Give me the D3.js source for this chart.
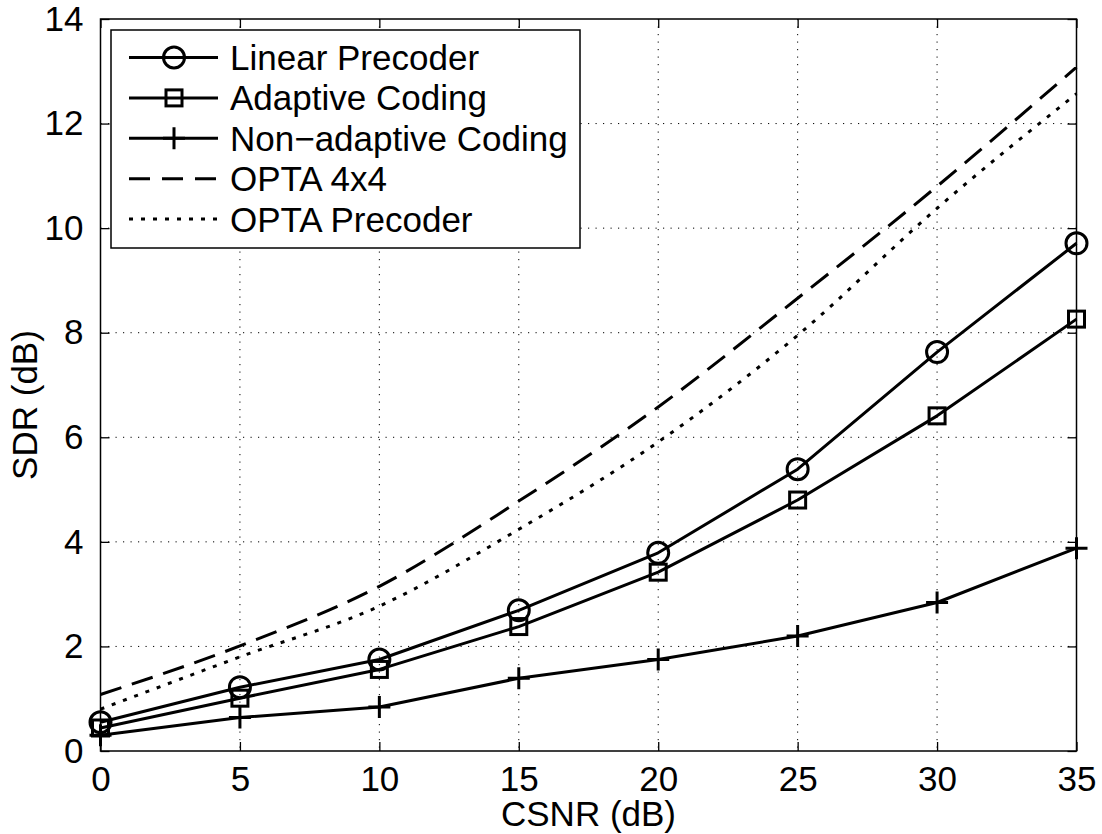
<!DOCTYPE html>
<html>
<head>
<meta charset="utf-8">
<script src="https://cdn.jsdelivr.net/npm/d3@7"></script>
<style>
  html, body { margin: 0; padding: 0; background: #fff; }
  svg { display: block; }
  text { font-family: "Liberation Sans", Arial, Helvetica, sans-serif; fill: #000; }
</style>
</head>
<body>
<svg id="chart" width="1102" height="834"></svg>
<script>
// CSNR sample points (dB)
const csnr = [0, 5, 10, 15, 20, 25, 30, 35];

// SDR (dB) for each scheme
const linearPrecoder = [0.55, 1.22, 1.75, 2.69, 3.79, 5.39, 7.63, 9.71];
const adaptiveCoding = [0.44, 1.01, 1.56, 2.38, 3.42, 4.80, 6.41, 8.26];
const nonAdaptiveCoding = [0.30, 0.64, 0.84, 1.39, 1.75, 2.20, 2.84, 3.88];
const opta4x4 = [1.08, 2.01, 3.15, 4.78, 6.58, 8.66, 10.80, 13.08];
const optaPrecoder = [0.80, 1.80, 2.77, 4.24, 5.91, 7.95, 10.38, 12.57];

// Axis ticks
const xTicks = [0, 5, 10, 15, 20, 25, 30, 35];
const yTicks = [0, 2, 4, 6, 8, 10, 12, 14];

const seriesNames = ["Linear Precoder", "Adaptive Coding", "Non\u2212adaptive Coding", "OPTA 4x4", "OPTA Precoder"];

const svg = d3.select("#chart");
const margin = { left: 100.5, top: 19, right: 1076.5, bottom: 751 };

const x = d3.scaleLinear().domain([0, 35]).range([margin.left, margin.right]);
const y = d3.scaleLinear().domain([0, 14]).range([margin.bottom, margin.top]);

const FS = 35;

// Dotted grid
const grid = svg.append("g");
grid.selectAll("line.gx").data(xTicks.slice(1, -1)).enter().append("line")
  .attr("x1", d => x(d)).attr("x2", d => x(d))
  .attr("y1", margin.top).attr("y2", margin.bottom)
  .attr("stroke", "#000").attr("stroke-width", 1).attr("stroke-dasharray", "1.2,6.3");
grid.selectAll("line.gy").data(yTicks.slice(1, -1)).enter().append("line")
  .attr("y1", d => y(d)).attr("y2", d => y(d))
  .attr("x1", margin.left).attr("x2", margin.right)
  .attr("stroke", "#000").attr("stroke-width", 1).attr("stroke-dasharray", "1.2,6.3");

// Axes with inward ticks on all four sides
const tickLen = 9;
const axisG = svg.append("g");
const xAxisB = d3.axisBottom(x).tickValues(xTicks).tickSizeInner(-tickLen).tickSizeOuter(0).tickPadding(15);
const xAxisT = d3.axisTop(x).tickValues(xTicks).tickSizeInner(-tickLen).tickSizeOuter(0).tickFormat("");
const yAxisL = d3.axisLeft(y).tickValues(yTicks).tickSizeInner(-tickLen).tickSizeOuter(0).tickPadding(17);
const yAxisR = d3.axisRight(y).tickValues(yTicks).tickSizeInner(-tickLen).tickSizeOuter(0).tickFormat("");

function styleAxis(g) {
  g.select(".domain").remove();
  g.selectAll(".tick line").attr("stroke", "#000").attr("stroke-width", 1.3);
  g.selectAll(".tick text").style("font-size", FS + "px")
    .style("font-family", '"Liberation Sans", Arial, sans-serif').attr("fill", "#000");
}
axisG.append("g").attr("transform", `translate(0,${margin.bottom})`).call(xAxisB).call(styleAxis)
  .selectAll(".tick text").attr("dy", "0.71em");
axisG.append("g").attr("transform", `translate(0,${margin.top})`).call(xAxisT).call(styleAxis);
axisG.append("g").attr("transform", `translate(${margin.left},0)`).call(yAxisL).call(styleAxis);
axisG.append("g").attr("transform", `translate(${margin.right},0)`).call(yAxisR).call(styleAxis);

// Plot box
svg.append("rect")
  .attr("x", margin.left).attr("y", margin.top)
  .attr("width", margin.right - margin.left).attr("height", margin.bottom - margin.top)
  .attr("fill", "none").attr("stroke", "#000").attr("stroke-width", 1.5);

// Axis titles
svg.append("text").attr("x", (margin.left + margin.right) / 2).attr("y", 826)
  .attr("text-anchor", "middle").style("font-size", FS + "px").text("CSNR (dB)");
svg.append("text")
  .attr("transform", `translate(37,405) rotate(-90)`)
  .attr("text-anchor", "middle").style("font-size", FS + "px").text("SDR (dB)");

// Lines
const lw = 3;
const straight = d3.line().x((d, i) => x(csnr[i])).y(d => y(d));
const smooth = d3.line().x((d, i) => x(csnr[i])).y(d => y(d)).curve(d3.curveMonotoneX);

const plotG = svg.append("g");
plotG.append("path").datum(opta4x4).attr("d", smooth)
  .attr("fill", "none").attr("stroke", "#000").attr("stroke-width", lw).attr("stroke-dasharray", "22,11");
plotG.append("path").datum(optaPrecoder).attr("d", smooth)
  .attr("fill", "none").attr("stroke", "#000").attr("stroke-width", lw).attr("stroke-dasharray", "4,8");
[linearPrecoder, adaptiveCoding, nonAdaptiveCoding].forEach(s => {
  plotG.append("path").datum(s).attr("d", straight)
    .attr("fill", "none").attr("stroke", "#000").attr("stroke-width", lw).attr("stroke-linejoin", "round");
});

// Marker drawing helpers
function circleMarker(g, cx, cy) {
  g.append("circle").attr("cx", cx).attr("cy", cy).attr("r", 10.5)
    .attr("fill", "none").attr("stroke", "#000").attr("stroke-width", lw);
}
function squareMarker(g, cx, cy) {
  const s = 16;
  g.append("rect").attr("x", cx - s / 2).attr("y", cy - s / 2).attr("width", s).attr("height", s)
    .attr("fill", "none").attr("stroke", "#000").attr("stroke-width", lw);
}
function plusMarker(g, cx, cy) {
  const h = 11;
  g.append("path").attr("d", `M${cx - h},${cy}H${cx + h}M${cx},${cy - h}V${cy + h}`)
    .attr("fill", "none").attr("stroke", "#000").attr("stroke-width", lw);
}

linearPrecoder.forEach((v, i) => circleMarker(plotG, x(csnr[i]), y(v)));
adaptiveCoding.forEach((v, i) => squareMarker(plotG, x(csnr[i]), y(v)));
nonAdaptiveCoding.forEach((v, i) => plusMarker(plotG, x(csnr[i]), y(v)));

// Legend
const leg = svg.append("g");
leg.append("rect").attr("x", 111).attr("y", 30).attr("width", 469).attr("height", 218)
  .attr("fill", "#fff").attr("stroke", "#000").attr("stroke-width", 1.5);
const rowBase = 70, rowStep = 40.4;
seriesNames.forEach((name, i) => {
  const base = rowBase + i * rowStep;
  const cy = base - 12.5;
  const ln = leg.append("line").attr("x1", 129).attr("x2", 218).attr("y1", cy).attr("y2", cy)
    .attr("stroke", "#000").attr("stroke-width", lw);
  if (i === 3) ln.attr("stroke-dasharray", "21,12");
  if (i === 4) ln.attr("stroke-dasharray", "4,8");
  if (i === 0) circleMarker(leg, 174, cy);
  if (i === 1) squareMarker(leg, 174, cy);
  if (i === 2) plusMarker(leg, 174, cy);
  leg.append("text").attr("x", 230).attr("y", base).style("font-size", FS + "px").text(name);
});
</script>
</body>
</html>
